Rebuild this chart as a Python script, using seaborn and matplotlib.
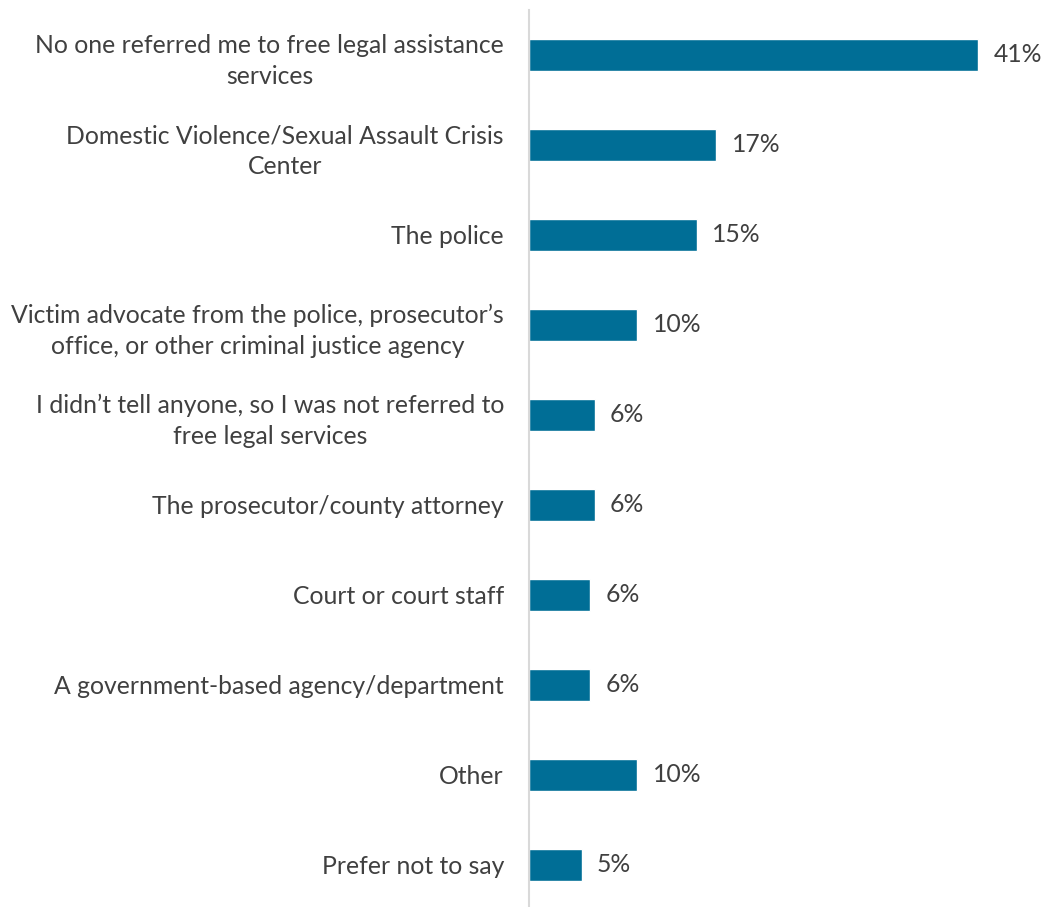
import matplotlib
matplotlib.use("Agg")
import matplotlib.pyplot as plt
import seaborn as sns
import pandas as pd

categories = [
    "No one referred me to free legal assistance\nservices",
    "Domestic Violence/Sexual Assault Crisis\nCenter",
    "The police",
    "Victim advocate from the police, prosecutor\u2019s\noffice, or other criminal justice agency",
    "I didn\u2019t tell anyone, so I was not referred to\nfree legal services",
    "The prosecutor/county attorney",
    "Court or court staff",
    "A government-based agency/department",
    "Other",
    "Prefer not to say",
]
values = [41.0, 17.1, 15.3, 9.9, 6.0, 6.0, 5.6, 5.6, 9.9, 4.8]

df = pd.DataFrame({"category": categories, "value": values})

sns.set_theme(style="white")
plt.rcParams["font.family"] = ["Lato", "DejaVu Sans"]

W, H = 1041, 907
fig = plt.figure(figsize=(W / 100, H / 100), dpi=100)
ax = fig.add_axes([529 / W, 0, 1 - 529 / W, 1 - 10 / H])

bar_color = "#006E96"
text_color = "#404040"
fs = 17.8

sns.barplot(data=df, x="value", y="category", color=bar_color,
            width=0.35, saturation=1, ax=ax, orient="h")

px_per_unit = 10.95
ax.set_xlim(0, (W - 529) / px_per_unit)
ax.set_ylim(len(categories) - 0.5 - 3 / 90, -0.5)

for i, v in enumerate(values):
    ax.text(v + 1.4, i, f"{v:.0f}%", va="center", ha="left",
            fontsize=fs, color=text_color)

ax.set_xlabel("")
ax.set_ylabel("")
ax.set_xticks([])
ax.tick_params(axis="y", length=0, pad=18, labelsize=fs, labelcolor=text_color)
for lbl in ax.get_yticklabels():
    lbl.set_horizontalalignment("right")
    lbl.set_multialignment("center")
    lbl.set_linespacing(1.42)

for s in ["top", "right", "bottom"]:
    ax.spines[s].set_visible(False)
ax.spines["left"].set_color("#D9D9D9")
ax.spines["left"].set_linewidth(1.5)

fig.savefig("out.png", dpi=100)
